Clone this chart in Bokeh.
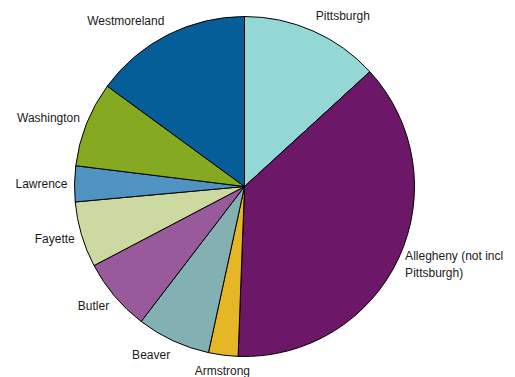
import math
from bokeh.plotting import figure
from bokeh.models import Range1d, ColumnDataSource
from bokeh.embed import file_html
from bokeh.resources import INLINE
from bokeh.core.properties import value

categories = ["Pittsburgh", "Allegheny (not incl\nPittsburgh)", "Armstrong", "Beaver",
              "Butler", "Fayette", "Lawrence", "Washington", "Westmoreland"]
shares = [13.2, 37.4, 2.8, 7.0, 6.9, 6.25, 3.4, 8.1, 14.95]
colors = ["#93d8d4", "#6c1767", "#e5b727", "#83b1b3", "#985a9b",
          "#ccd9a0", "#4f93c3", "#86a922", "#065e99"]

W, H = 515, 377
p = figure(width=W, height=H, output_backend="svg", toolbar_location=None,
           x_range=Range1d(0, W), y_range=Range1d(0, H), min_border=0)
p.axis.visible = False
p.grid.visible = False
p.outline_line_color = None

cx, cy, r = 244, 191, 170
total = sum(shares)
starts, ends, mids = [], [], []
cum = 0.0
for s in shares:
    a0 = math.pi / 2 - 2 * math.pi * (cum + s) / total
    a1 = math.pi / 2 - 2 * math.pi * cum / total
    starts.append(a0)
    ends.append(a1)
    mids.append((a0 + a1) / 2)
    cum += s

src = ColumnDataSource(dict(start=starts, end=ends, color=colors, cat=categories))
p.wedge(x=cx, y=cy, radius=r, start_angle="start", end_angle="end",
        fill_color="color", line_color="black", line_width=1, source=src)

lx, ly, al = [], [], []
for m in mids:
    dx, dy = math.cos(m), math.sin(m)
    x = cx + (r + 7) * dx
    y = cy + (r + 16) * dy
    if dx > 0.2:
        a = "left"
    elif dx < -0.2:
        a = "right"
    else:
        a = "center"
    lx.append(x); ly.append(y); al.append(a)

lsrc = ColumnDataSource(dict(x=lx, y=ly, text=categories, align=al))
p.text(x="x", y="y", text="text", text_align="align", text_baseline="middle",
       text_font=value("Liberation Sans"), text_font_size="12px",
       text_color="#1a1a1a", text_line_height=1.25, source=lsrc)

open("out.html", "w").write(file_html(p, INLINE))
